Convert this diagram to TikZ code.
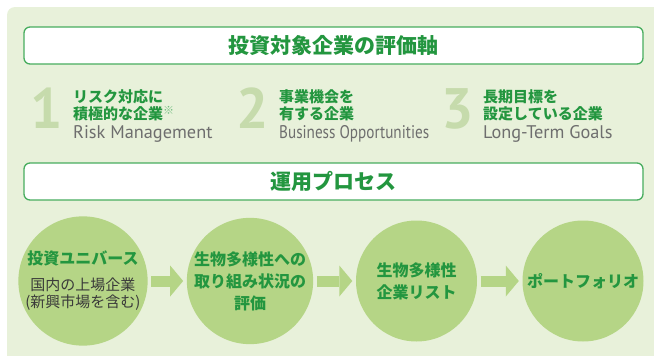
\documentclass[tikz,border=0pt]{standalone}
\usepackage{fontspec}
\usepackage{tikz}
\usetikzlibrary{arrows.meta}

\newfontfamily\jpfont{Noto Sans CJK JP}
\newfontfamily\enfont{PT Sans}

\definecolor{leaf}{HTML}{E8F1DA}
\definecolor{bubble}{HTML}{B5D586}
\definecolor{deepgreen}{HTML}{23963F}
\definecolor{framegreen}{HTML}{48AD5E}
\definecolor{digitgreen}{HTML}{C6DBAC}
\definecolor{notegreen}{HTML}{6FBC7E}
\definecolor{textgray}{HTML}{6E6E6E}
\definecolor{inkgray}{HTML}{3A3A3A}

\begin{document}
\begin{tikzpicture}[x=1pt,y=-1pt,
    headbox/.style={draw=framegreen, line width=1.3pt, fill=white, rounded corners=6pt,
        minimum width=619pt, minimum height=37pt, inner sep=0pt, text=deepgreen,
        font=\jpfont\bfseries\fontsize{21}{21}\selectfont},
    numeral/.style={anchor=base, inner sep=0pt, text=digitgreen,
        font=\enfont\bfseries\fontsize{57}{57}\selectfont},
    jpline/.style={anchor=base west, inner sep=0pt, text=deepgreen,
        font=\jpfont\bfseries\fontsize{15}{15}\selectfont},
    enline/.style={anchor=base west, inner sep=0pt, text=textgray,
        font=\enfont\fontsize{18.3}{18.3}\selectfont},
    stage/.style={circle, fill=bubble, minimum size=121pt, inner sep=0pt, align=center,
        text=deepgreen, font=\jpfont\bfseries\fontsize{16}{22}\selectfont},
    flow/.style={draw=bubble, line width=11pt,
        -{Triangle[length=13pt, width=31pt, line width=0pt]}}
]
    \useasboundingbox (0,0) rectangle (654,356);

    % pale panel, only the top left corner is rounded
    \fill[leaf] (7,356) [rounded corners=8pt] -- (7,7) [sharp corners] -- (654,7) -- (654,356) -- cycle;

    % evaluation axes
    \node[headbox] (axis) at (333.5,45.5) {投資対象企業の評価軸};

    \node[numeral] (n1) at (47,128) {1};
    \node[jpline] (risk1) at (73,102) {リスク対応に};
    \node[jpline] (risk2) at (73,119) {積極的な企業\raisebox{5pt}{\color{notegreen}\mdseries\fontsize{11}{11}\selectfont ※}};
    \node[enline] (risk3) at (73,138) {Risk Management};

    \node[numeral] (n2) at (253,128) {2};
    \node[jpline] (biz1) at (279,102) {事業機会を};
    \node[jpline] (biz2) at (279,119) {有する企業};
    \node[enline] (biz3) at (279,138) {\addfontfeature{FakeStretch=0.83}Business Opportunities};

    \node[numeral] (n3) at (458,128) {3};
    \node[jpline] (goal1) at (483,102) {長期目標を};
    \node[jpline] (goal2) at (483,119) {設定している企業};
    \node[enline] (goal3) at (483,138) {Long-Term Goals};

    % investment process
    \node[headbox] (process) at (333.5,181.5) {運用プロセス};

    \node[stage] (universe) at (83,281) {投資ユニバース\\[4pt]{\mdseries\color{inkgray}\fontsize{15}{15}\selectfont 国内の上場企業}\\[-5pt]{\mdseries\color{inkgray}\fontsize{15}{15}\selectfont (新興市場を含む)}};
    \node[stage] (rating) at (250,281) {生物多様性への\\取り組み状況の\\評価};
    \node[stage] (shortlist) at (416.5,281) {生物多様性\\企業リスト};
    \node[stage] (portfolio) at (583,281) {ポートフォリオ};

    \draw[flow] ([xshift=3.5pt]universe.east) -- ([xshift=-3.5pt]rating.west);
    \draw[flow] ([xshift=3.5pt]rating.east) -- ([xshift=-3.5pt]shortlist.west);
    \draw[flow] ([xshift=3.5pt]shortlist.east) -- ([xshift=-3.5pt]portfolio.west);
\end{tikzpicture}
\end{document}
